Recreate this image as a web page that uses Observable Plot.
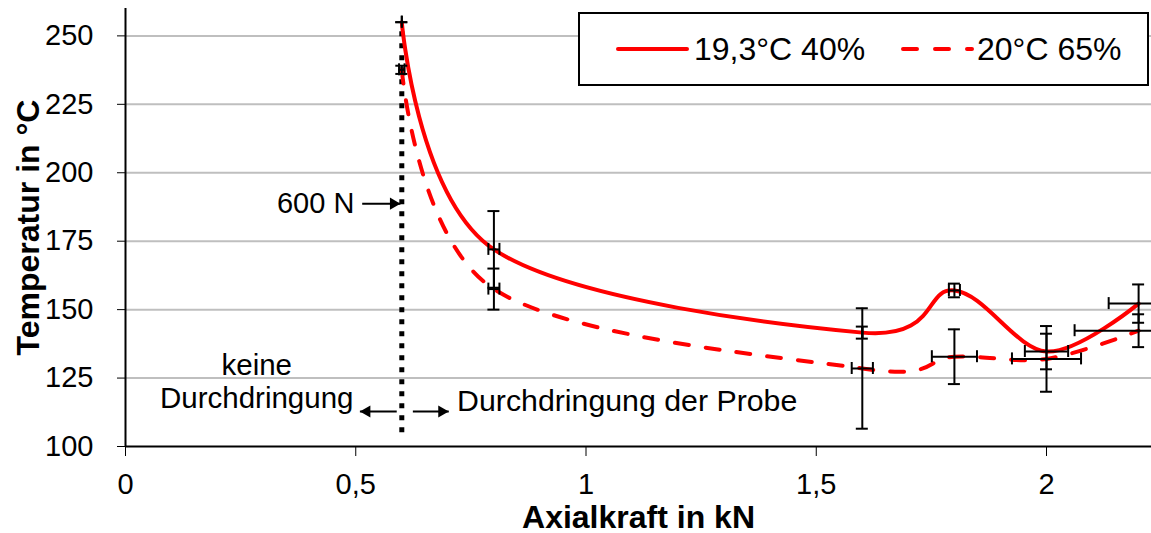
<!DOCTYPE html>
<html><head><meta charset="utf-8">
<script src="https://cdn.jsdelivr.net/npm/d3@7"></script>
<script src="https://cdn.jsdelivr.net/npm/@observablehq/plot@0.6"></script>
<style>
body{margin:0;background:#fff;}
#wrap{position:relative;width:1151px;height:533px;font-family:"Liberation Sans",Arial,sans-serif;}
#legend{position:absolute;left:578px;top:12px;width:567px;height:70px;border:2px solid #000;background:#fff;}
#legend svg{position:absolute;top:0;left:0;}
#legend span{position:absolute;top:35px;transform:translateY(-50%);font-size:32px;color:#000;white-space:nowrap;line-height:1;}
</style></head><body><div id="wrap"></div>
<script>
// data
const forceKN = [0.6, 0.8, 1.6, 1.8, 2.0, 2.2];
const temp40 = [255, 172, 141.6, 157, 134.7, 152.2];
const temp65 = [237.6, 157.5, 128.5, 132.8, 132, 142.3];
const yErr40 = [0, 14, 2.2, 2.5, 6.5, 7];
const yErr65 = [1.5, 7.5, 22, 10, 12, 6];
const xErr40 = [0, 0.012, 0, 0.012, 0.047, 0.065];
const xErr65 = [0.006, 0.012, 0.023, 0.049, 0.075, 0.139];
const seriesNames = ["19,3°C 40%", "20°C 65%"];
const xTicks = [0, 0.5, 1, 1.5, 2];
const yTicks = [100, 125, 150, 175, 200, 225, 250];
const xDomain = [0, 2.228];
const yDomain = [100, 260];
const thresholdKN = 0.6;
const thresholdRange = [105, 252];
const labelsEnd = [{text: "600 N", x: 0.497, y: 188.7}];
const labelsMid = [{text: "keine", x: 0.285, y: 129.6}, {text: "Durchdringung", x: 0.285, y: 117.5}];
const labelsStart = [{text: "Durchdringung der Probe", x: 0.72, y: 116.4}];
const arrowsRight = [{x1: 0.514, x2: 0.597, y: 188.7}, {x1: 0.624, x2: 0.702, y: 112.8}];
const arrowsLeft = [{x1: 0.589, x2: 0.509, y: 112.8}];
const xTitle = "Axialkraft in kN";
const yTitle = "Temperatur in °C";

const red = "#ff0000";
const rows = forceKN.flatMap((x, i) => [
  {series: seriesNames[0], x, y: temp40[i], ey: yErr40[i], ex: xErr40[i]},
  {series: seriesNames[1], x, y: temp65[i], ey: yErr65[i], ex: xErr65[i]}
]);
const vRows = rows.filter(d => d.ey > 0);
const vCaps = rows.flatMap(d => [{x: d.x, y: d.y - d.ey}, {x: d.x, y: d.y + d.ey}]);
const hRows = rows.filter(d => d.ex > 0);
const hCaps = rows.flatMap(d => [{x: d.x - d.ex, y: d.y}, {x: d.x + d.ex, y: d.y}]);
const comma = d => String(d).replace(".", ",");

const chart = Plot.plot({
  width: 1151, height: 533,
  marginLeft: 125, marginRight: 0, marginTop: 8, marginBottom: 87,
  style: {fontFamily: '"Liberation Sans", Arial, sans-serif', fontSize: "29px", color: "#000", background: "transparent", overflow: "visible"},
  x: {domain: xDomain, ticks: xTicks, tickFormat: comma, tickSize: 10, tickPadding: 17, label: null},
  y: {domain: yDomain, ticks: yTicks, tickSize: 8, tickPadding: 24, label: null},
  marks: [
    Plot.ruleY(yTicks.slice(1), {stroke: "#bfbfbf", strokeWidth: 2}),
    Plot.ruleX([thresholdKN], {y1: thresholdRange[0], y2: thresholdRange[1], stroke: "#000", strokeWidth: 5, strokeDasharray: "5,7"}),
    Plot.line(rows.filter(d => d.series === seriesNames[0]), {x: "x", y: "y", stroke: red, strokeWidth: 4, curve: "cardinal"}),
    Plot.line(rows.filter(d => d.series === seriesNames[1]), {x: "x", y: "y", stroke: red, strokeWidth: 4, curve: "cardinal", strokeDasharray: "14,17", strokeLinecap: "round"}),
    Plot.ruleX(vRows, {x: "x", y1: d => d.y - d.ey, y2: d => d.y + d.ey, stroke: "#000", strokeWidth: 2}),
    Plot.ruleY(vCaps, {y: "y", x1: "x", x2: "x", insetLeft: -6, insetRight: -6, stroke: "#000", strokeWidth: 2}),
    Plot.ruleY(hRows, {y: "y", x1: d => d.x - d.ex, x2: d => d.x + d.ex, stroke: "#000", strokeWidth: 2, clip: true}),
    Plot.ruleX(hCaps, {x: "x", y1: "y", y2: "y", insetTop: -6, insetBottom: -6, stroke: "#000", strokeWidth: 2, clip: true}),
    Plot.ruleX([0], {stroke: "#000", strokeWidth: 2}),
    Plot.ruleY([100], {stroke: "#000", strokeWidth: 2}),
    Plot.text(labelsEnd, {x: "x", y: "y", text: "text", textAnchor: "end", fontSize: 29}),
    Plot.text(labelsMid, {x: "x", y: "y", text: "text", textAnchor: "middle", fontSize: 29.5}),
    Plot.text(labelsStart, {x: "x", y: "y", text: "text", textAnchor: "start", fontSize: 30.3}),
    Plot.link(arrowsRight.concat(arrowsLeft), {x1: "x1", x2: "x2", y1: "y", y2: "y", stroke: "#000", strokeWidth: 2}),
    Plot.dot(arrowsRight, {x: "x2", y: "y", symbol: "triangle", r: 4.5, fill: "#000", stroke: "none", rotate: 90, dx: -7}),
    Plot.dot(arrowsLeft, {x: "x2", y: "y", symbol: "triangle", r: 4.5, fill: "#000", stroke: "none", rotate: -90, dx: 7}),
    Plot.text([xTitle], {frameAnchor: "bottom", dy: 71, lineAnchor: "middle", textAnchor: "middle", fontWeight: "bold", fontSize: 32}),
    Plot.text([yTitle], {frameAnchor: "left", dx: -97, rotate: -90, lineAnchor: "middle", textAnchor: "middle", fontWeight: "bold", fontSize: 32})
  ]
});
const wrap = document.getElementById("wrap");
wrap.appendChild(chart);

// legend
const legend = document.createElement("div");
legend.id = "legend";
legend.innerHTML =
  '<svg width="567" height="70">' +
  '<line x1="38" x2="107" y1="35" y2="35" stroke="' + red + '" stroke-width="4" stroke-linecap="round"/>' +
  '<line x1="323" x2="392" y1="35" y2="35" stroke="' + red + '" stroke-width="4" stroke-linecap="round" stroke-dasharray="14,18"/>' +
  '</svg>' +
  '<span style="left:114px">' + seriesNames[0] + '</span>' +
  '<span style="left:397px">' + seriesNames[1] + '</span>';
wrap.appendChild(legend);
</script></body></html>
